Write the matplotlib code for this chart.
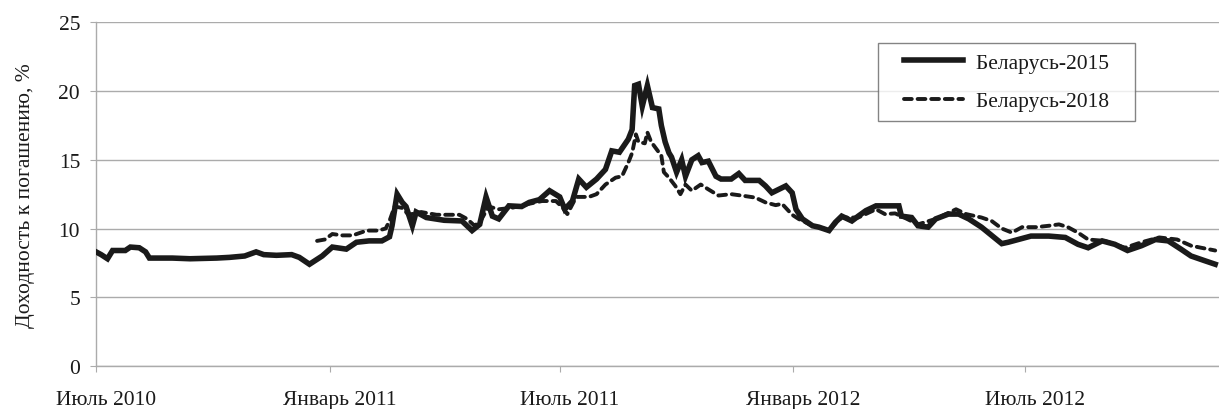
import pandas as pd
import matplotlib
matplotlib.use('Agg')
import matplotlib.pyplot as plt
from matplotlib.transforms import ScaledTranslation
from matplotlib.legend_handler import HandlerLine2D

# Беларусь-2015
dates_2015 = [
    '2010-07-01', '2010-07-05', '2010-07-10', '2010-07-14', '2010-07-24', '2010-07-28',
    '2010-08-04', '2010-08-09', '2010-08-12', '2010-08-30', '2010-09-13', '2010-10-04',
    '2010-10-14', '2010-10-26', '2010-11-04', '2010-11-10', '2010-11-20', '2010-12-02',
    '2010-12-08', '2010-12-16', '2010-12-26', '2011-01-03', '2011-01-14', '2011-01-22',
    '2011-02-01', '2011-02-11', '2011-02-17', '2011-02-19', '2011-02-23', '2011-02-27',
    '2011-03-02', '2011-03-07', '2011-03-10', '2011-03-18', '2011-04-01', '2011-04-15',
    '2011-04-23', '2011-04-29', '2011-05-04', '2011-05-09', '2011-05-14', '2011-05-22',
    '2011-06-01', '2011-06-07', '2011-06-15', '2011-06-23', '2011-07-01', '2011-07-05',
    '2011-07-11', '2011-07-16', '2011-07-22', '2011-07-30', '2011-08-06', '2011-08-11',
    '2011-08-17', '2011-08-24', '2011-08-27', '2011-08-29', '2011-09-01', '2011-09-04',
    '2011-09-08', '2011-09-12', '2011-09-17', '2011-09-19', '2011-09-22', '2011-09-25',
    '2011-09-27', '2011-10-01', '2011-10-05', '2011-10-08', '2011-10-13', '2011-10-18',
    '2011-10-21', '2011-10-26', '2011-11-01', '2011-11-05', '2011-11-13', '2011-11-19',
    '2011-11-24', '2011-12-05', '2011-12-10', '2011-12-15', '2011-12-26', '2011-12-31',
    '2012-01-03', '2012-01-08', '2012-01-16', '2012-01-21', '2012-01-29', '2012-02-03',
    '2012-02-08', '2012-02-16', '2012-02-21', '2012-02-27', '2012-03-06', '2012-03-24',
    '2012-03-26', '2012-04-03', '2012-04-08', '2012-04-16', '2012-04-22', '2012-05-02',
    '2012-05-10', '2012-05-18', '2012-05-28', '2012-06-05', '2012-06-13', '2012-06-18',
    '2012-06-26', '2012-07-06', '2012-07-20', '2012-08-02', '2012-08-12', '2012-08-20',
    '2012-08-31', '2012-09-10', '2012-09-20', '2012-10-01', '2012-10-12', '2012-10-22',
    '2012-11-01', '2012-11-09', '2012-11-20', '2012-11-28',
]
yield_2015 = [
    8.3, 8.1, 7.8, 8.4, 8.4, 8.65,
    8.6, 8.3, 7.85, 7.85, 7.8, 7.85,
    7.9, 8.0, 8.3, 8.1, 8.05, 8.1,
    7.9, 7.4, 8.0, 8.65, 8.5, 9.0,
    9.1, 9.1, 9.4, 10.2, 12.5, 11.9,
    11.6, 10.2, 11.2, 10.8, 10.6, 10.55,
    9.85, 10.3, 12.3, 10.9, 10.7, 11.65,
    11.6, 11.9, 12.1, 12.75, 12.3, 11.4,
    12.0, 13.6, 13.0, 13.6, 14.3, 15.65,
    15.55, 16.5, 17.2, 20.4, 20.5, 18.9,
    20.4, 18.8, 18.7, 17.5, 16.3, 15.5,
    15.2, 14.1, 15.0, 13.8, 15.0, 15.3,
    14.8, 14.9, 13.8, 13.6, 13.6, 14.0,
    13.5, 13.5, 13.1, 12.6, 13.1, 12.6,
    11.4, 10.7, 10.2, 10.1, 9.85, 10.45,
    10.9, 10.55, 10.9, 11.3, 11.65, 11.65,
    10.9, 10.8, 10.2, 10.1, 10.7, 11.05,
    11.05, 10.7, 10.1, 9.5, 8.9, 9.0,
    9.2, 9.45, 9.45, 9.35, 8.85, 8.6,
    9.1, 8.85, 8.4, 8.75, 9.2, 9.1,
    8.5, 8.0, 7.65, 7.4,
]

# Беларусь-2018
dates_2018 = [
    '2010-12-22', '2010-12-28', '2011-01-03', '2011-01-11', '2011-01-19', '2011-01-30',
    '2011-02-08', '2011-02-14', '2011-02-17', '2011-02-21', '2011-02-27', '2011-03-04',
    '2011-03-14', '2011-03-26', '2011-04-13', '2011-04-19', '2011-04-25', '2011-04-30',
    '2011-05-06', '2011-05-14', '2011-05-24', '2011-06-07', '2011-06-17', '2011-06-28',
    '2011-07-03', '2011-07-07', '2011-07-14', '2011-07-24', '2011-07-30', '2011-08-06',
    '2011-08-14', '2011-08-19', '2011-08-24', '2011-08-27', '2011-08-30', '2011-09-01',
    '2011-09-06', '2011-09-08', '2011-09-11', '2011-09-15', '2011-09-19', '2011-09-21',
    '2011-09-25', '2011-09-30', '2011-10-04', '2011-10-08', '2011-10-13', '2011-10-20',
    '2011-10-26', '2011-11-03', '2011-11-13', '2011-11-21', '2011-12-02', '2011-12-10',
    '2011-12-18', '2011-12-23', '2011-12-31', '2012-01-05', '2012-01-16', '2012-01-29',
    '2012-02-08', '2012-02-21', '2012-03-06', '2012-03-13', '2012-03-21', '2012-03-26',
    '2012-04-08', '2012-04-22', '2012-05-08', '2012-05-16', '2012-05-28', '2012-06-05',
    '2012-06-13', '2012-06-21', '2012-06-29', '2012-07-10', '2012-07-20', '2012-07-28',
    '2012-08-04', '2012-08-12', '2012-08-20', '2012-09-02', '2012-09-18', '2012-10-01',
    '2012-10-15', '2012-10-29', '2012-11-09', '2012-11-17', '2012-11-28',
]
yield_2018 = [
    9.1, 9.2, 9.6, 9.5, 9.5, 9.85,
    9.85, 10.0, 10.55, 11.6, 11.5, 11.0,
    11.2, 11.0, 11.0, 10.7, 10.2, 10.6,
    11.6, 11.4, 11.5, 11.8, 12.0, 12.0,
    11.55, 11.05, 12.3, 12.3, 12.5, 13.2,
    13.7, 13.8, 14.8, 15.5, 16.85, 16.3,
    16.2, 17.0, 16.3, 15.8, 15.3, 14.1,
    13.7, 13.1, 12.5, 13.2, 12.75, 13.2,
    12.85, 12.4, 12.5, 12.4, 12.25, 11.9,
    11.7, 11.8, 11.0, 10.7, 10.2, 9.9,
    10.8, 10.8, 11.4, 11.05, 11.1, 10.9,
    10.3, 10.7, 11.4, 11.05, 10.8, 10.55,
    10.0, 9.7, 10.1, 10.1, 10.2, 10.3,
    10.1, 9.7, 9.2, 9.1, 8.6, 9.0,
    9.35, 9.2, 8.75, 8.6, 8.4,
]

tick_dates = ['2010-07-01', '2011-01-01', '2011-07-01', '2012-01-01', '2012-07-01']
tick_labels = ['Июль 2010', 'Январь 2011', 'Июль 2011', 'Январь 2012', 'Июль 2012']
y_ticks = [0, 5, 10, 15, 20, 25]

plt.rcParams['font.family'] = ['Liberation Serif', 'DejaVu Serif']

fig = plt.figure(figsize=(12.19, 4.10), dpi=100)
ax = fig.add_axes([0.0788, 0.105, 0.9212, 0.838])

grey = '#ababab'
ink = '#1a1a1a'
ax.plot(pd.to_datetime(dates_2015), yield_2015, color=ink, lw=4.0,
        solid_joinstyle='miter', label='Беларусь-2015   ', zorder=3)
ax.plot(pd.to_datetime(dates_2018), yield_2018, color=ink, lw=2.8,
        linestyle=(0, (2.0, 1.5)), dash_capstyle='round',
        label='Беларусь-2018   ', zorder=2)

ax.set_ylim(0, 25)
ax.set_yticks(y_ticks)
ax.set_xlim(pd.Timestamp('2010-07-01'), pd.Timestamp('2012-12-01'))
ax.set_xticks(pd.to_datetime(tick_dates))
ax.set_xticklabels(tick_labels)

ax.grid(axis='y', color=grey, lw=1.0)
ax.set_axisbelow(True)
for side in ('top', 'right'):
    ax.spines[side].set_visible(False)
for side in ('left', 'bottom'):
    ax.spines[side].set_color(grey)
    ax.spines[side].set_linewidth(1.0)

ax.tick_params(axis='both', direction='out', length=4.5, color=grey,
               labelsize=15.5, labelcolor=ink)
ax.tick_params(axis='y', pad=7)
ax.tick_params(axis='x', pad=13)

# labels in the source sit a little to the right of their ticks
shift = ScaledTranslation(10 / 100, 0, fig.dpi_scale_trans)
for lbl in ax.get_xticklabels():
    lbl.set_transform(lbl.get_transform() + shift)

ax.set_ylabel('Доходность к погашению, %', fontsize=15.5, color=ink, labelpad=17)

# xpad leaves a blank gap left of each legend line, like the source box
leg = ax.legend(loc='upper left', bbox_to_anchor=(0.696, 0.94), fontsize=15.5,
                frameon=True, fancybox=False, edgecolor='#666666',
                handlelength=3.5, handletextpad=0.6, borderpad=0.45,
                labelspacing=0.85, borderaxespad=0,
                handler_map={plt.Line2D: HandlerLine2D(xpad=0.76)})
leg.get_frame().set_linewidth(1.0)
for t in leg.get_texts():
    t.set_color(ink)

fig.savefig('out.png', dpi=100)
